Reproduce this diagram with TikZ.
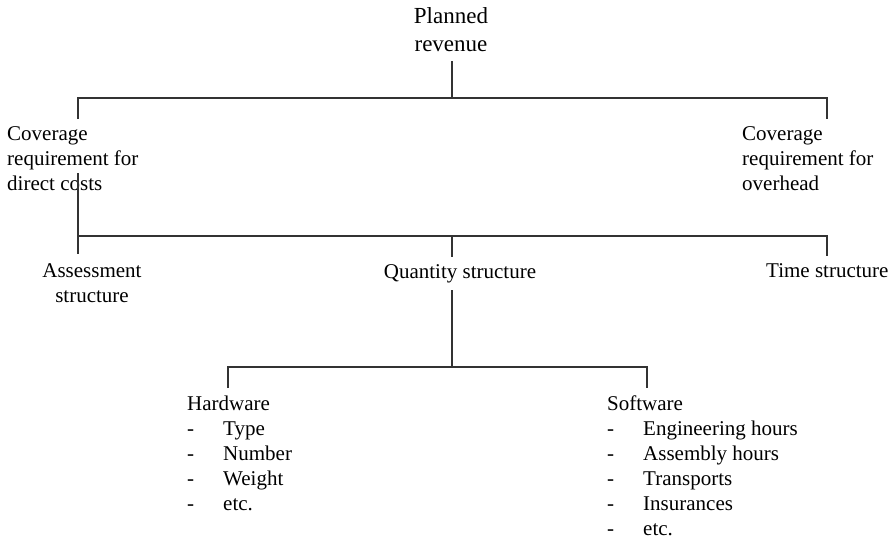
\documentclass[tikz,border=0pt]{standalone}
\usepackage{fontspec}
\setmainfont{Liberation Serif}
\usetikzlibrary{calc}

\newcommand{\dashitem}[1]{\makebox[36pt][l]{-}#1}

\begin{document}
\begin{tikzpicture}[x=1pt,y=-1pt,
    toptext/.style={inner sep=0, font=\fontsize{23}{28}\selectfont, align=center},
    leftnode/.style={inner sep=0, font=\fontsize{21}{25}\selectfont, align=left, anchor=base west},
    midnode/.style={inner sep=0, font=\fontsize{21}{25}\selectfont, align=center, anchor=base},
    treeline/.style={draw=black!80, line width=1.3pt}
    ]
  \useasboundingbox (0,0) rectangle (893,541);
  % nodes (anchored at the baseline of their last line)
  \node[toptext, anchor=base] (Planned) at (451,51) {Planned\\revenue};
  \node[leftnode] (CovDirect) at (7,190) {Coverage\\requirement for\\direct costs};
  \node[leftnode] (CovOverhead) at (742,190) {Coverage\\requirement for\\overhead};
  \node[midnode] (Assessment) at (92,302) {Assessment\\structure};
  \node[midnode] (Quantity) at (460,278) {Quantity structure};
  \node[leftnode] (Time) at (766,277) {Time structure};
  \node[leftnode] (Hardware) at (187,510) {Hardware\\\dashitem{Type}\\\dashitem{Number}\\\dashitem{Weight}\\\dashitem{etc.}};
  \node[leftnode] (Software) at (607,535) {Software\\\dashitem{Engineering hours}\\\dashitem{Assembly hours}\\\dashitem{Transports}\\\dashitem{Insurances}\\\dashitem{etc.}};
  % junctions
  \coordinate (Rev bar) at (452,98);
  \coordinate (Direct top) at (78,119);
  \coordinate (Overhead top) at (827,119);
  \coordinate (Direct low) at (78,173);
  \coordinate (Cost bar) at (452,236);
  \coordinate (Assessment top) at (78,254);
  \coordinate (Quantity top) at (452,257);
  \coordinate (Time top) at (827,256);
  \coordinate (Quantity low) at (452,290);
  \coordinate (Quantity bar) at (452,367);
  \coordinate (Hardware top) at (228,388);
  \coordinate (Software top) at (647,388);
  % lines
  \draw[treeline] ($(Planned.south -| Rev bar)+(0,10)$) -- (Rev bar);
  \draw[treeline] (Direct top) |- (Rev bar) -| (Overhead top);
  \draw[treeline] (Direct low) |- (Cost bar) -| (Time top);
  \draw[treeline] (Direct low |- Cost bar) -- (Assessment top);
  \draw[treeline] (Cost bar) -- (Quantity top);
  \draw[treeline] (Quantity low) -- (Quantity bar);
  \draw[treeline] (Hardware top) |- (Quantity bar) -| (Software top);
\end{tikzpicture}
\end{document}
